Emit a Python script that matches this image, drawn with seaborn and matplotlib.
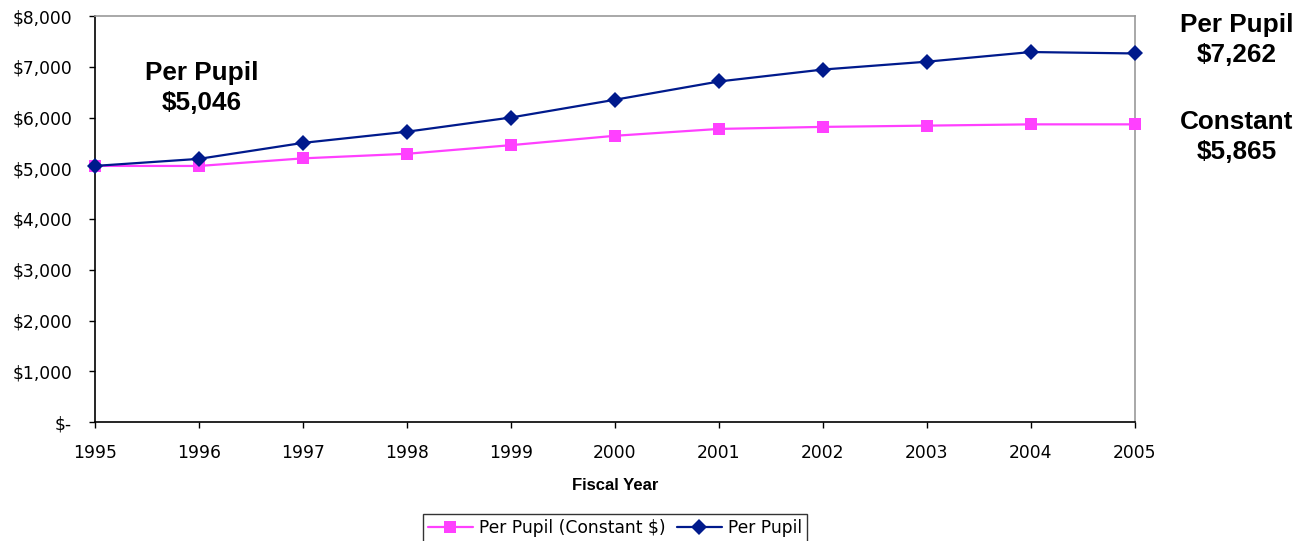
import matplotlib
matplotlib.use('Agg')
import matplotlib.pyplot as plt
import matplotlib.ticker as mticker
import pandas as pd
import seaborn as sns

# data
years = [1995, 1996, 1997, 1998, 1999, 2000, 2001, 2002, 2003, 2004, 2005]
per_pupil = [5046, 5185, 5500, 5720, 6000, 6350, 6710, 6945, 7100, 7290, 7262]
per_pupil_const = [5046, 5045, 5195, 5285, 5455, 5640, 5775, 5815, 5840, 5865, 5865]
y_ticks = [0, 1000, 2000, 3000, 4000, 5000, 6000, 7000, 8000]

pink = '#ff40ff'
navy = '#001a8c'

sns.set_style('white')
plt.rcParams['font.family'] = ['DejaVu Sans']
plt.rcParams['text.color'] = 'black'
plt.rcParams['axes.labelcolor'] = 'black'
plt.rcParams['xtick.color'] = 'black'
plt.rcParams['ytick.color'] = 'black'
plt.rcParams['xtick.bottom'] = True
plt.rcParams['ytick.left'] = True

df = pd.DataFrame({
    'year': years * 2,
    'value': per_pupil_const + per_pupil,
    'series': ['Per Pupil (Constant $)'] * len(years) + ['Per Pupil'] * len(years),
})

fig = plt.figure(figsize=(13.13, 5.41), dpi=100)
ax = fig.add_axes([95 / 1313, 1 - 422 / 541, (1135 - 95) / 1313, (422 - 16) / 541])

sns.lineplot(data=df, x='year', y='value', hue='series', style='series',
             palette={'Per Pupil (Constant $)': pink, 'Per Pupil': navy},
             markers={'Per Pupil (Constant $)': 's', 'Per Pupil': 'D'},
             dashes=False, markersize=8.5, markeredgewidth=0, linewidth=1.6,
             ax=ax, legend=True, clip_on=False, zorder=3)

ax.set_xlim(1995, 2005)
ax.set_ylim(0, 8000)
ax.set_xticks(years)
ax.set_yticks(y_ticks)
ax.yaxis.set_major_formatter(mticker.FuncFormatter(
    lambda v, p: '$-' if v == 0 else f'${v:,.0f}'))
ax.tick_params(axis='both', direction='out', length=4.5, width=1,
               color='black', labelcolor='black', labelsize=12.3, pad=12,
               bottom=True, left=True)
ax.tick_params(axis='x', pad=11)

for s in ['left', 'bottom']:
    ax.spines[s].set_color('black')
    ax.spines[s].set_linewidth(1.2)
for s in ['top', 'right']:
    ax.spines[s].set_color('#999999')
    ax.spines[s].set_linewidth(1.2)

ax.set_ylabel('')
ax.set_xlabel('Fiscal Year', fontsize=12, fontweight='bold', color='black',
              family=['Liberation Sans'], labelpad=12)

# annotations
ann_font = dict(fontsize=18.8, fontweight='bold', family=['Liberation Sans'],
                color='black', ha='center', va='center', linespacing=1.3,
                clip_on=False)
ax.text(1996.03, 6580, 'Per Pupil\n$5,046', **ann_font)
ax.text(2005.98, 7530, 'Per Pupil\n$7,262', **ann_font)
ax.text(2005.98, 5615, 'Constant\n$5,865', **ann_font)

leg = ax.legend(loc='upper center', bbox_to_anchor=(615 / 1313, 1 - 514 / 541),
                bbox_transform=fig.transFigure, ncol=2, frameon=True,
                fancybox=False, edgecolor='black', fontsize=12.3,
                handlelength=2.6, handletextpad=0.35, columnspacing=0.7,
                borderpad=0.3, borderaxespad=0)
leg.get_frame().set_linewidth(1)
for t in leg.get_texts():
    t.set_color('black')

fig.savefig('out.png', dpi=100)
